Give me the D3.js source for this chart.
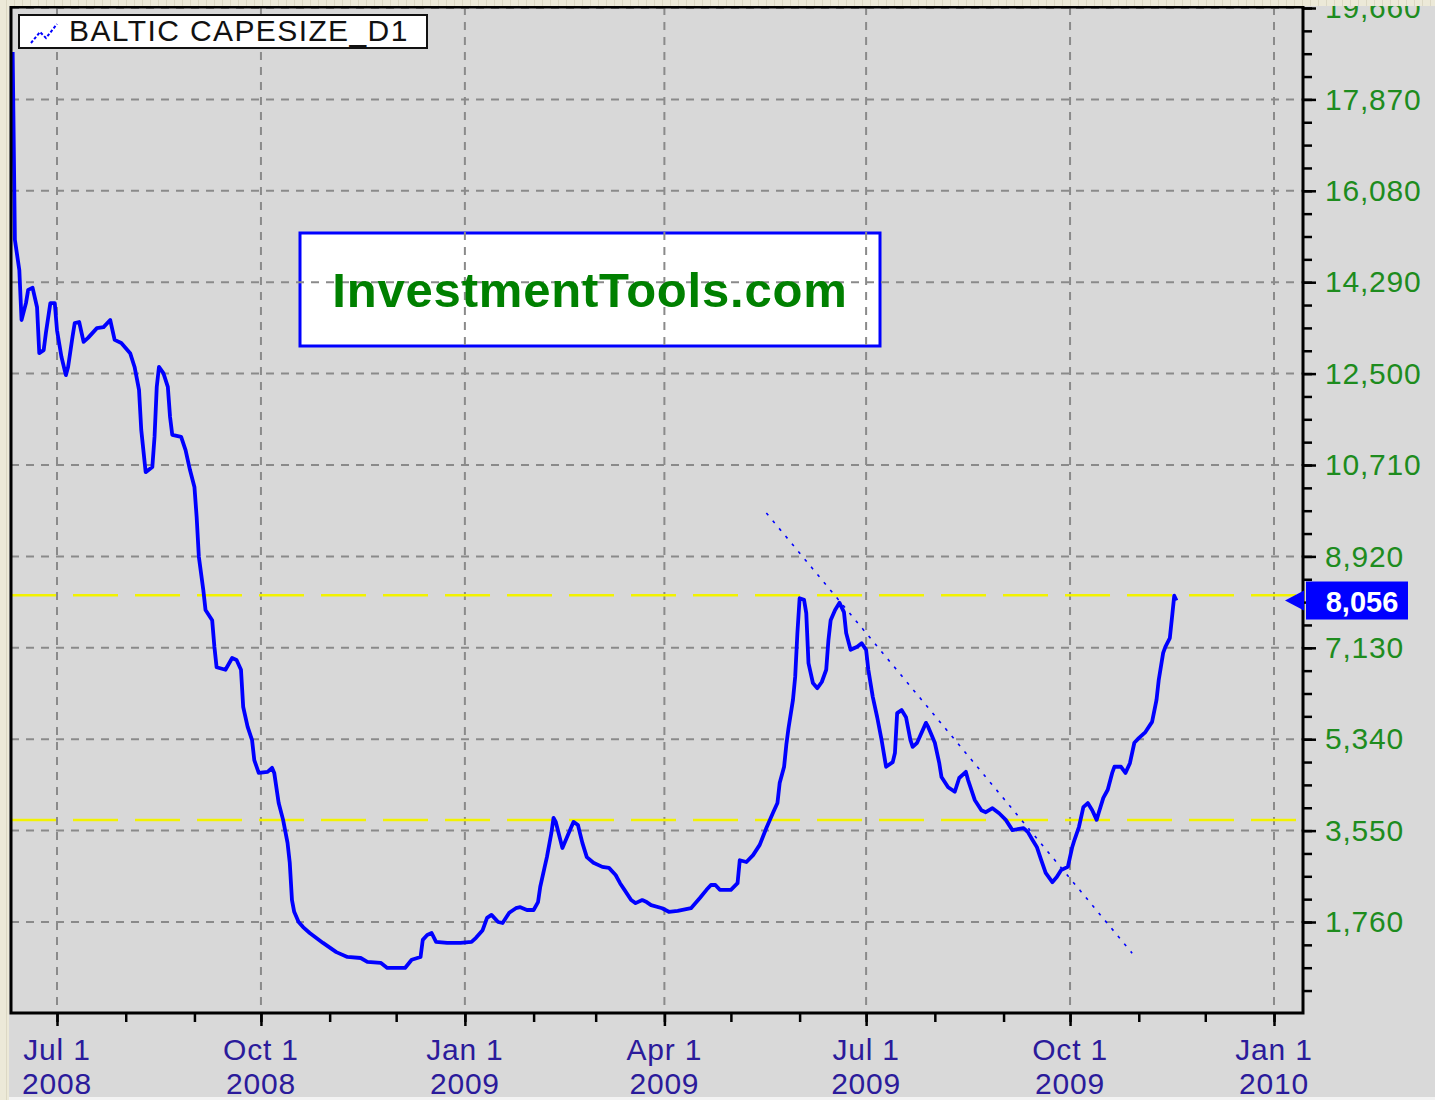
<!DOCTYPE html>
<html>
<head>
<meta charset="utf-8">
<script src="https://cdn.jsdelivr.net/npm/d3@7"></script>
<style>
  body { margin: 0; background: #d9d9d9; }
  svg text { font-family: Arial, "Liberation Sans", sans-serif; }
</style>
</head>
<body>
<div id="chart"></div>
<script>
// series
var dates = [
  "2008-06-11","2008-06-12","2008-06-14","2008-06-15","2008-06-17","2008-06-18","2008-06-20","2008-06-22",
  "2008-06-23","2008-06-25","2008-06-26","2008-06-28","2008-06-30","2008-07-01","2008-07-03","2008-07-05",
  "2008-07-06","2008-07-08","2008-07-09","2008-07-11","2008-07-13","2008-07-15","2008-07-19","2008-07-22",
  "2008-07-25","2008-07-27","2008-07-30","2008-08-03","2008-08-05","2008-08-07","2008-08-08","2008-08-10",
  "2008-08-13","2008-08-14","2008-08-15","2008-08-16","2008-08-18","2008-08-20","2008-08-21","2008-08-22",
  "2008-08-26","2008-08-28","2008-08-30","2008-09-01","2008-09-02","2008-09-03","2008-09-05","2008-09-06",
  "2008-09-09","2008-09-10","2008-09-11","2008-09-15","2008-09-18","2008-09-20","2008-09-22","2008-09-23",
  "2008-09-25","2008-09-27","2008-09-28","2008-09-30","2008-10-04","2008-10-06","2008-10-07","2008-10-09",
  "2008-10-11","2008-10-13","2008-10-14","2008-10-15","2008-10-16","2008-10-18","2008-10-20","2008-10-23",
  "2008-10-29","2008-11-04","2008-11-09","2008-11-15","2008-11-18","2008-11-24","2008-11-27","2008-12-05",
  "2008-12-08","2008-12-12","2008-12-13","2008-12-15","2008-12-17","2008-12-19","2008-12-24","2008-12-30",
  "2009-01-04","2009-01-06","2009-01-09","2009-01-11","2009-01-13","2009-01-16","2009-01-18","2009-01-21",
  "2009-01-24","2009-01-26","2009-01-29","2009-02-01","2009-02-03","2009-02-04","2009-02-06","2009-02-07",
  "2009-02-09","2009-02-10","2009-02-11","2009-02-14","2009-02-15","2009-02-18","2009-02-19","2009-02-21",
  "2009-02-23","2009-02-25","2009-02-28","2009-03-04","2009-03-07","2009-03-10","2009-03-12","2009-03-14",
  "2009-03-17","2009-03-19","2009-03-22","2009-03-24","2009-03-26","2009-03-31","2009-04-03","2009-04-07",
  "2009-04-13","2009-04-17","2009-04-20","2009-04-22","2009-04-24","2009-04-26","2009-05-01","2009-05-04",
  "2009-05-05","2009-05-08","2009-05-11","2009-05-14","2009-05-17","2009-05-20","2009-05-22","2009-05-23",
  "2009-05-25","2009-05-26","2009-05-27","2009-05-29","2009-05-30","2009-05-31","2009-06-01","2009-06-03",
  "2009-06-04","2009-06-05","2009-06-07","2009-06-09","2009-06-11","2009-06-13","2009-06-14","2009-06-15",
  "2009-06-17","2009-06-19","2009-06-21","2009-06-22","2009-06-24","2009-06-27","2009-06-29","2009-07-01",
  "2009-07-02","2009-07-04","2009-07-06","2009-07-08","2009-07-10","2009-07-13","2009-07-14","2009-07-15",
  "2009-07-17","2009-07-19","2009-07-21","2009-07-22","2009-07-24","2009-07-28","2009-07-29","2009-08-01",
  "2009-08-03","2009-08-04","2009-08-07","2009-08-10","2009-08-12","2009-08-15","2009-08-16","2009-08-19",
  "2009-08-22","2009-08-24","2009-08-27","2009-08-30","2009-09-02","2009-09-05","2009-09-10","2009-09-12",
  "2009-09-14","2009-09-16","2009-09-18","2009-09-20","2009-09-23","2009-09-25","2009-09-27","2009-09-30",
  "2009-10-02","2009-10-03","2009-10-05","2009-10-07","2009-10-09","2009-10-11","2009-10-13","2009-10-14",
  "2009-10-16","2009-10-18","2009-10-20","2009-10-21","2009-10-24","2009-10-26","2009-10-28","2009-10-30",
  "2009-11-01","2009-11-04","2009-11-07","2009-11-09","2009-11-10","2009-11-12","2009-11-13","2009-11-15",
  "2009-11-16","2009-11-17","2009-11-18"
];
var values = [
  18800,15120,14530,13550,13880,14140,14180,13800,
  12900,12960,13300,13880,13880,13350,12830,12470,
  12630,13220,13490,13510,13120,13200,13390,13410,
  13550,13160,13100,12900,12630,12180,11400,10570,
  10670,11260,12240,12630,12510,12240,11650,11300,
  11260,11000,10610,10280,9690,8910,8260,7870,
  7670,7150,6750,6700,6930,6890,6700,5970,
  5580,5320,4930,4680,4700,4780,4680,4090,
  3760,3310,2920,2190,1960,1760,1660,1545,
  1350,1170,1075,1055,980,960,860,860,
  1020,1075,1410,1505,1545,1370,1350,1350,
  1370,1450,1600,1840,1900,1760,1740,1940,
  2030,2050,1995,1995,2150,2450,2840,3030,
  3500,3800,3720,3210,3310,3620,3720,3660,
  3310,3030,2920,2840,2820,2680,2520,2390,
  2190,2130,2190,2150,2090,2030,1960,1980,
  2030,2230,2390,2485,2485,2390,2390,2520,
  2970,2935,3070,3270,3600,3900,4090,4480,
  4800,5230,5560,6110,6560,7420,8100,8070,
  7810,6830,6440,6340,6460,6700,7280,7670,
  7870,8010,7830,7420,7090,7150,7220,7090,
  6700,6170,5770,5320,4800,4890,5070,5850,
  5910,5770,5320,5190,5270,5660,5580,5270,
  4870,4600,4400,4310,4580,4700,4540,4150,
  3950,3910,3990,3890,3760,3560,3600,3520,
  3370,3230,2970,2720,2540,2640,2780,2840,
  3230,3370,3620,4010,4090,3950,3760,3910,
  4190,4350,4680,4800,4800,4680,4870,5270,
  5360,5480,5680,6110,6500,7030,7150,7320,
  7730,8150,8056
];

var yTicks = [1760, 3550, 5340, 7130, 8920, 10710, 12500, 14290, 16080, 17870, 19660];
var xTicks = ["2008-07-01", "2008-10-01", "2009-01-01", "2009-04-01", "2009-07-01", "2009-10-01", "2010-01-01"];
var levels = [8160, 3760];               // yellow dashed levels
var trendDates = ["2009-05-17", "2009-10-29"];
var trendValues = [9770, 1150];
var seriesName = "BALTIC CAPESIZE_D1";
var watermark = "InvestmentTools.com";

var W = 1435, H = 1100;
var plot = { left: 11, right: 1303, top: 7, bottom: 1013 };
var parse = d3.timeParse("%Y-%m-%d");
var data = dates.map(function(d, i) { return { date: parse(d), value: values[i] }; });

var x = d3.scaleTime()
  .domain([parse(xTicks[0]), parse(xTicks[xTicks.length - 1])])
  .range([57, 1274]);
var y = d3.scaleLinear()
  .domain([yTicks[0], yTicks[yTicks.length - 1]])
  .range([922, 8]);

var svg = d3.select("#chart").append("svg")
  .attr("width", W)
  .attr("height", H);

var defs = svg.append("defs");
defs.append("clipPath").attr("id", "clip")
  .append("rect")
  .attr("x", plot.left).attr("y", plot.top)
  .attr("width", plot.right - plot.left).attr("height", plot.bottom - plot.top);
var pat = defs.append("pattern").attr("id", "stripes")
  .attr("width", 8).attr("height", 8).attr("patternUnits", "userSpaceOnUse");
pat.append("rect").attr("width", 8).attr("height", 8).attr("fill", "#ece9d8");
pat.append("rect").attr("x", 6).attr("width", 1).attr("height", 8).attr("fill", "#dcd8c4");

svg.append("rect").attr("width", W).attr("height", H).attr("fill", "#d9d9d9");
svg.append("rect")
  .attr("x", plot.left).attr("y", plot.top)
  .attr("width", plot.right - plot.left).attr("height", plot.bottom - plot.top)
  .attr("fill", "#d8d8d8");

// watermark box (grid shows through it)
svg.append("rect")
  .attr("x", 300).attr("y", 233).attr("width", 580).attr("height", 113)
  .attr("fill", "#fff").attr("stroke", "#0000ff").attr("stroke-width", 3);

// grid
var grid = svg.append("g").attr("clip-path", "url(#clip)")
  .attr("stroke", "#8a8a8a").attr("stroke-width", 2).attr("stroke-dasharray", "8,7");
grid.selectAll(".gv").data(xTicks).enter().append("line")
  .attr("x1", function(d) { return x(parse(d)); })
  .attr("x2", function(d) { return x(parse(d)); })
  .attr("y1", plot.top).attr("y2", plot.bottom);
grid.selectAll(".gh").data(yTicks).enter().append("line")
  .attr("x1", plot.left).attr("x2", plot.right)
  .attr("y1", function(d) { return y(d); })
  .attr("y2", function(d) { return y(d); });

svg.append("text")
  .attr("x", 590).attr("y", 307)
  .attr("text-anchor", "middle")
  .attr("font-size", 49).attr("font-weight", "bold")
  .attr("letter-spacing", 0.8)
  .attr("fill", "#008000")
  .text(watermark);

// yellow levels
svg.append("g").attr("clip-path", "url(#clip)")
  .selectAll("line").data(levels).enter().append("line")
  .attr("x1", plot.left).attr("x2", plot.right)
  .attr("y1", function(d) { return y(d); })
  .attr("y2", function(d) { return y(d); })
  .attr("stroke", "#f2f200").attr("stroke-width", 2.5)
  .attr("stroke-dasharray", "45,17");

// trend line
svg.append("line")
  .attr("x1", x(parse(trendDates[0]))).attr("y1", y(trendValues[0]))
  .attr("x2", x(parse(trendDates[1]))).attr("y2", y(trendValues[1]))
  .attr("stroke", "#0000ff").attr("stroke-width", 1.6)
  .attr("stroke-dasharray", "3,7");

// main series
var line = d3.line()
  .x(function(d) { return x(d.date); })
  .y(function(d) { return y(d.value); });
svg.append("path")
  .datum(data)
  .attr("clip-path", "url(#clip)")
  .attr("d", line)
  .attr("fill", "none")
  .attr("stroke", "#0000ff")
  .attr("stroke-width", 3.8)
  .attr("stroke-linejoin", "round");

// frame
svg.append("path")
  .attr("d", "M" + plot.left + "," + plot.top + "H" + plot.right + "V" + plot.bottom + "H" + plot.left + "Z")
  .attr("fill", "none").attr("stroke", "#000").attr("stroke-width", 3);

// x axis
var months = x.ticks(d3.timeMonth.every(1));
var gxMinor = svg.append("g").attr("transform", "translate(0," + plot.bottom + ")")
  .call(d3.axisBottom(x).tickValues(months).tickSize(9).tickFormat(""));
var gxMajor = svg.append("g").attr("transform", "translate(0," + plot.bottom + ")")
  .call(d3.axisBottom(x).tickValues(xTicks.map(parse)).tickSize(13).tickFormat(""));
[gxMinor, gxMajor].forEach(function(g) {
  g.select(".domain").remove();
  g.selectAll("line").attr("stroke", "#000").attr("stroke-width", 2.5);
});
var xl = svg.append("g").attr("fill", "#2b1b9b").attr("font-size", 30)
  .attr("letter-spacing", 0.8).attr("text-anchor", "middle");
xTicks.forEach(function(t) {
  var d = parse(t);
  var tx = xl.append("text").attr("x", x(d));
  tx.append("tspan").attr("x", x(d)).attr("y", 1060).text(d3.timeFormat("%b %-d")(d));
  tx.append("tspan").attr("x", x(d)).attr("y", 1094).text(d3.timeFormat("%Y")(d));
});

// y axis (right)
var minor = d3.range(yTicks[0] - 3 * 447.5, yTicks[yTicks.length - 1] + 1, 447.5);
var gyMinor = svg.append("g").attr("transform", "translate(" + plot.right + ",0)")
  .call(d3.axisRight(y).tickValues(minor).tickSize(9).tickFormat(""));
var gyMajor = svg.append("g").attr("transform", "translate(" + plot.right + ",0)")
  .call(d3.axisRight(y).tickValues(yTicks).tickSize(13).tickPadding(9).tickFormat(d3.format(",")));
[gyMinor, gyMajor].forEach(function(g) {
  g.select(".domain").remove();
  g.selectAll("line").attr("stroke", "#000").attr("stroke-width", 2.5);
});
gyMajor.selectAll("text")
  .attr("fill", "#1e8c1e").attr("font-size", 30)
  .attr("letter-spacing", 0.8)
  .attr("font-family", "Arial, 'Liberation Sans', sans-serif");

// last value marker
var last = data[data.length - 1];
var ly = y(last.value);
svg.append("path")
  .attr("d", "M1285," + ly + "L1304," + (ly - 10) + "L1304," + (ly + 10) + "Z")
  .attr("fill", "#0000ff");
svg.append("rect")
  .attr("x", 1306).attr("y", ly - 19).attr("width", 102).attr("height", 38)
  .attr("fill", "#0000ff");
svg.append("text")
  .attr("x", 1362).attr("y", ly + 11)
  .attr("text-anchor", "middle")
  .attr("font-size", 29).attr("font-weight", "bold")
  .attr("fill", "#fff")
  .text(d3.format(",")(last.value));

// legend
svg.append("rect")
  .attr("x", 19).attr("y", 15).attr("width", 408).attr("height", 33)
  .attr("fill", "#fff").attr("stroke", "#111").attr("stroke-width", 2);
svg.append("path")
  .attr("d", "M31,43L40,32L46,38L57,24")
  .attr("fill", "none").attr("stroke", "#0000ff").attr("stroke-width", 2)
  .attr("stroke-dasharray", "3,2");
svg.append("text")
  .attr("x", 69).attr("y", 41)
  .attr("font-size", 30).attr("letter-spacing", 1.4).attr("fill", "#111")
  .text(seriesName);

// window chrome strips
svg.append("rect").attr("x", 0).attr("y", 0).attr("width", W).attr("height", 6).attr("fill", "url(#stripes)");
svg.append("rect").attr("x", 0).attr("y", 0).attr("width", 9).attr("height", H).attr("fill", "url(#stripes)");
svg.append("rect").attr("x", 9).attr("y", 1097).attr("width", W).attr("height", 3).attr("fill", "#f3f3f3");
</script>
</body>
</html>
